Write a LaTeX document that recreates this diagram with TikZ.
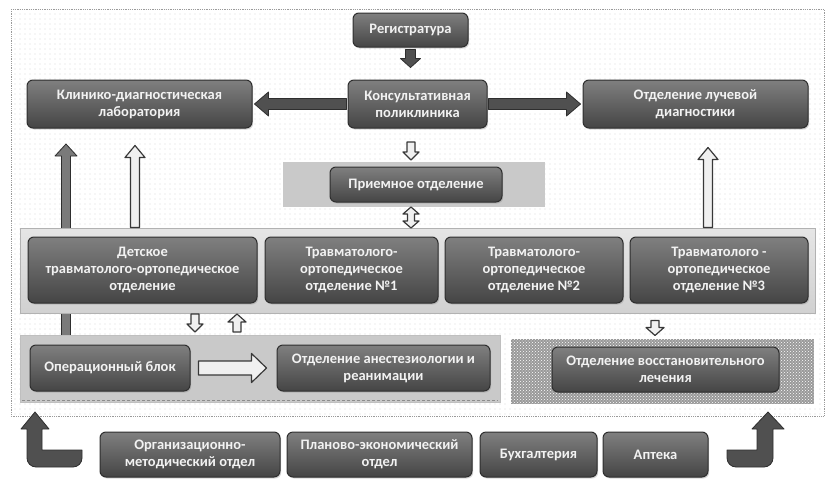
\documentclass[tikz,border=0pt]{standalone}
\usepackage{fontspec}
\setmainfont{Carlito}
\usetikzlibrary{calc,patterns,patterns.meta,shadows}

\definecolor{framegray}{HTML}{9A9A9A}
\definecolor{bandgray}{HTML}{C9C9C9}
\definecolor{arrowdark}{HTML}{505050}
\definecolor{arrowmid}{HTML}{7A7A7A}
\definecolor{arrowlight}{HTML}{F0F0F0}
\definecolor{edgedark}{HTML}{2E2E2E}
\definecolor{labeltext}{HTML}{F2F2F2}

% straight block arrow: [style]{from}{to}{shaft half width}{head half width}{head length}
\newcommand\blockarr[6][]{%
  \coordinate (ba-h) at ($(#3)!#6!(#2)$);
  \draw[#1] ($(#2)!#4!90:(#3)$) -- ($(ba-h)!#4!90:(#3)$) -- ($(ba-h)!#5!90:(#3)$)
    -- (#3) -- ($(ba-h)!#5!-90:(#3)$) -- ($(ba-h)!#4!-90:(#3)$)
    -- ($(#2)!#4!-90:(#3)$) -- cycle;}
% two-headed block arrow, same arguments
\newcommand\dblockarr[6][]{%
  \coordinate (ba-a) at ($(#2)!#6!(#3)$);
  \coordinate (ba-b) at ($(#3)!#6!(#2)$);
  \draw[#1] (#2) -- ($(ba-a)!#5!90:(#3)$) -- ($(ba-a)!#4!90:(#3)$)
    -- ($(ba-b)!#4!90:(#3)$) -- ($(ba-b)!#5!90:(#3)$) -- (#3)
    -- ($(ba-b)!#5!-90:(#3)$) -- ($(ba-b)!#4!-90:(#3)$)
    -- ($(ba-a)!#4!-90:(#3)$) -- ($(ba-a)!#5!-90:(#3)$) -- cycle;}

\tikzset{
  unit/.style={rounded corners=6pt, draw=edgedark, line width=1pt,
    top color=black!50, bottom color=black!73, text=labeltext,
    font=\bfseries\fontsize{14.5}{17}\selectfont, align=center, inner sep=0pt,
    drop shadow={opacity=0.3, shadow xshift=1.2pt, shadow yshift=-1.5pt}},
  darkarrow/.style={fill=arrowdark, draw=edgedark, line width=0.8pt, line join=round},
  midarrow/.style={fill=arrowmid, draw=edgedark, line width=0.8pt, line join=round},
  lightarrow/.style={fill=arrowlight, draw=black!78, line width=1.2pt, line join=round},
}

\begin{document}
\begin{tikzpicture}[x=1pt,y=-1pt]
\useasboundingbox (0,0) rectangle (829,479);
\fill[white] (0,0) rectangle (829,479);

% dotted working field
\path[fill=white] (11,9) rectangle (824,416);
\path[pattern={Dots[radius=0.45pt,distance=5pt]}, pattern color=black!40] (11,9) rectangle (824,416);
\draw[framegray, densely dotted, line width=0.8pt] (11,9) rectangle (824,416);

% long arrow from the operating unit up to the laboratory (runs behind the bands)
\coordinate (a1s) at (66,336);
\coordinate (a1e) at (66,144);
\blockarr[midarrow]{a1s}{a1e}{4.5pt}{11pt}{12pt}

% background bands
\fill[bandgray] (283,162) rectangle (545,207);
\draw[black!30, top color=black!10, bottom color=black!18, line width=1pt] (20,228) rectangle (815,313);
\draw[black!25, fill=bandgray, line width=1pt] (20,335) rectangle (500,402);
\draw[black!45, densely dashed, line width=1pt] (22,400) -- (498,400);
\path[preaction={fill=black!40}, pattern=crosshatch dots, pattern color=white] (510,338) rectangle (815,405);
\draw[white, line width=1.5pt] (510,338) rectangle (815,405);

% units
\node[unit, minimum width=115pt, minimum height=34pt] (reg) at (410.5,30) {Регистратура};
\node[unit, minimum width=139pt, minimum height=48pt] (kons) at (417.5,104) {Консультативная\\поликлиника};
\node[unit, minimum width=225pt, minimum height=48pt] (lab) at (139.5,104) {Клинико-диагностическая\\лаборатория};
\node[unit, minimum width=225pt, minimum height=48pt] (luch) at (695.5,104) {Отделение лучевой\\диагностики};
\node[unit, minimum width=172pt, minimum height=35pt] (priem) at (416,184.5) {Приемное отделение};

\node[unit, minimum width=229pt, minimum height=66pt] (det) at (142.5,270) {Детское\\травматолого-ортопедическое\\отделение};
\node[unit, minimum width=173pt, minimum height=66pt] (t1) at (351.5,270) {Травматолого-\\ортопедическое\\отделение №1};
\node[unit, minimum width=178pt, minimum height=66pt] (t2) at (534,270) {Травматолого-\\ортопедическое\\отделение №2};
\node[unit, minimum width=178pt, minimum height=66pt] (t3) at (719,270) {Травматолого -\\ортопедическое\\отделение №3};

\node[unit, minimum width=160pt, minimum height=46pt] (op) at (110,368) {Операционный блок};
\node[unit, minimum width=213pt, minimum height=46pt] (anest) at (383.5,368) {Отделение анестезиологии и\\реанимации};
\node[unit, minimum width=227pt, minimum height=45pt] (reab) at (665.5,369.5) {Отделение восстановительного\\лечения};

\node[unit, minimum width=180pt, minimum height=45pt] (org) at (190,454.5) {Организационно-\\методический отдел};
\node[unit, minimum width=185pt, minimum height=45pt] (plan) at (379.5,454.5) {Планово-экономический\\отдел};
\node[unit, minimum width=117pt, minimum height=45pt] (buh) at (538.5,454.5) {Бухгалтерия};
\node[unit, minimum width=105pt, minimum height=45pt] (apt) at (655.5,454.5) {Аптека};

% connectors
\coordinate (c1s) at ($(reg.south)+(0,2)$);
\coordinate (c1e) at ($(reg.south)+(0,20)$);
\blockarr[darkarrow]{c1s}{c1e}{5pt}{10pt}{9pt}

\coordinate (c2s) at ($(kons.west)+(-1,0)$);
\coordinate (c2e) at ($(lab.east)+(2,0)$);
\blockarr[darkarrow]{c2s}{c2e}{5.5pt}{12pt}{14pt}

\coordinate (c3s) at ($(kons.east)+(1,0)$);
\coordinate (c3e) at ($(luch.west)+(-2,0)$);
\blockarr[darkarrow]{c3s}{c3e}{5.5pt}{12pt}{14pt}

\coordinate (c4s) at (411,142);
\coordinate (c4e) at (411,160);
\blockarr[lightarrow]{c4s}{c4e}{4pt}{8pt}{8pt}

\coordinate (c5s) at (411,207);
\coordinate (c5e) at (411,228);
\dblockarr[lightarrow]{c5s}{c5e}{3.5pt}{8pt}{7pt}

\coordinate (c6s) at ($(det.north -| 135,0)+(0,-9)$);
\coordinate (c6e) at ($(lab.south -| 135,0)+(0,17)$);
\blockarr[lightarrow]{c6s}{c6e}{4.5pt}{10pt}{12pt}

\coordinate (c7s) at ($(t3.north -| 708,0)+(0,-9)$);
\coordinate (c7e) at ($(luch.south -| 708,0)+(0,19)$);
\blockarr[lightarrow]{c7s}{c7e}{4.5pt}{10pt}{12pt}

\coordinate (c8s) at (195,314);
\coordinate (c8e) at (195,332);
\blockarr[lightarrow]{c8s}{c8e}{4pt}{8pt}{8pt}

\coordinate (c9s) at (237,332);
\coordinate (c9e) at (237,314);
\blockarr[lightarrow]{c9s}{c9e}{4pt}{9pt}{8pt}

\coordinate (c10s) at ($(t3.south -| 655,0)+(0,17)$);
\coordinate (c10e) at ($(reab.north -| 655,0)+(0,-11)$);
\blockarr[lightarrow]{c10s}{c10e}{4pt}{9pt}{8pt}

\coordinate (c11s) at ($(op.east)+(8,0)$);
\coordinate (c11e) at ($(anest.west)+(-10,0)$);
\blockarr[lightarrow]{c11s}{c11e}{7pt}{14.5pt}{15pt}

% bent arrows from the service units up into the field
\draw[darkarrow] (82,450) -- (42,450) -- (42,429) -- (49,429) -- (35,412) -- (21,429) -- (27,429)
  [rounded corners=9pt] -- (27,467) -- (82,467) [sharp corners] -- cycle;
\draw[darkarrow] (727,450) -- (757,450) -- (757,429) -- (752,429) -- (768,412) -- (784,429) -- (773,429)
  [rounded corners=9pt] -- (773,467) -- (727,467) [sharp corners] -- cycle;

\end{tikzpicture}
\end{document}
